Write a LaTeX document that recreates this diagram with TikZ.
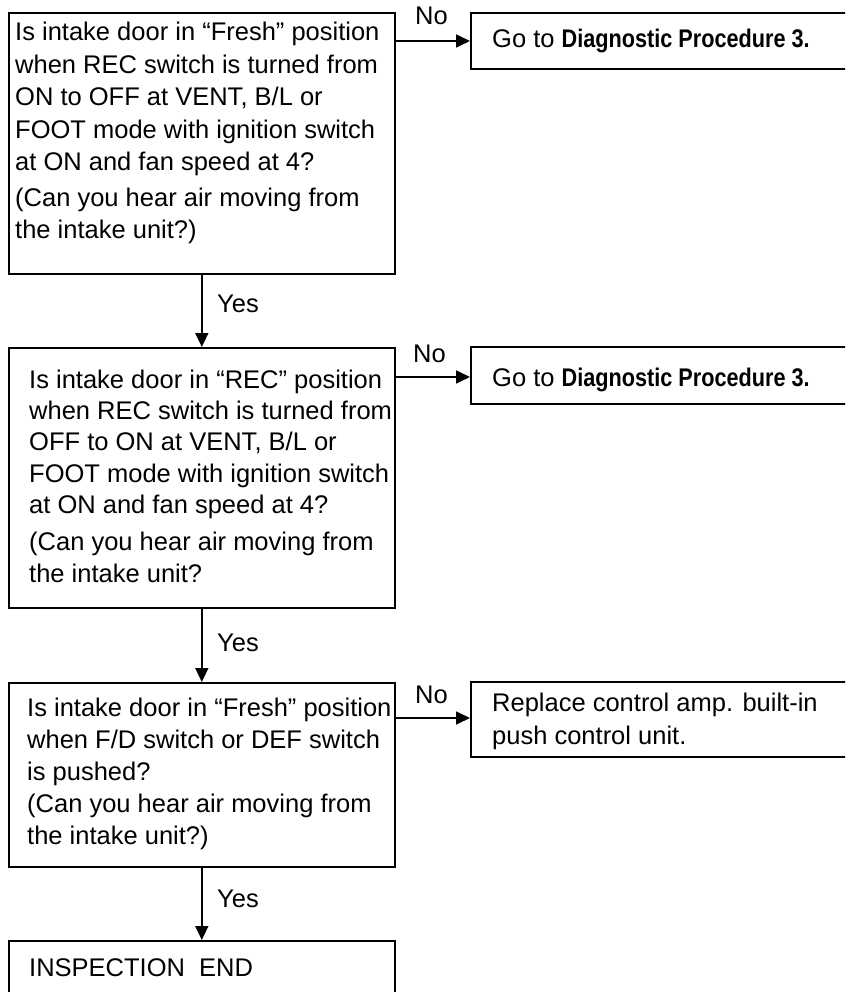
\documentclass[tikz,border=0pt]{standalone}
\usepackage{fontspec}
\usepackage{graphicx}
\setmainfont{Liberation Sans}
\usetikzlibrary{arrows.meta}
\begin{document}
\begin{tikzpicture}[x=1pt,y=-1pt,
  box/.style={draw, line width=1.6pt, rectangle, inner sep=0pt, anchor=north west},
  txt/.style={anchor=base west, align=left, inner sep=0pt},
  lab/.style={anchor=base west, inner sep=0pt},
  conn/.style={line width=1.6pt, -{Triangle[length=14pt,width=13pt]}}]
\clip (0,0) rectangle (845,992);
\fontsize{25.5}{32.5}\selectfont
% boxes
\node[box, minimum width=386pt, minimum height=261pt] (q1) at (8,12) {};
\node[box, minimum width=386pt, minimum height=260pt] (q2) at (8,347) {};
\node[box, minimum width=386pt, minimum height=184pt] (q3) at (8,682) {};
\node[box, minimum width=386pt, minimum height=80pt] (e) at (8,940) {};
\node[box, minimum width=430pt, minimum height=56pt] (g1) at (470,12) {};
\node[box, minimum width=430pt, minimum height=57pt] (g2) at (470,346) {};
\node[box, minimum width=430pt, minimum height=75pt] (r) at (470,681) {};
% texts (anchored at the baseline of the last line)
\node[txt, font=\fontsize{25.5}{32.5}\selectfont] (q1t) at (15,239) {Is intake door in ``Fresh'' position\\when REC switch is turned from\\ON to OFF at VENT, B/L or\\FOOT mode with ignition switch\\at ON and fan speed at 4?\\[3pt](Can you hear air moving from\\the intake unit?)};
\node[txt, font=\fontsize{25.5}{31.3}\selectfont] (q2t) at (29,582) {Is intake door in ``REC'' position\\when REC switch is turned from\\OFF to ON at VENT, B/L or\\FOOT mode with ignition switch\\at ON and fan speed at 4?\\[6pt](Can you hear air moving from\\the intake unit?};
\node[txt, font=\fontsize{25.5}{32}\selectfont] (q3t) at (27,844) {Is intake door in ``Fresh'' position\\when F/D switch or DEF switch\\is pushed?\\(Can you hear air moving from\\the intake unit?)};
\node[txt] (et) at (29,976) {INSPECTION\ \ END};
\node[txt] (g1t) at (492,48) {Go to \scalebox{0.85}[1]{\textbf{Diagnostic Procedure 3.}}};
\node[txt] (g2t) at (492,386) {Go to \scalebox{0.85}[1]{\textbf{Diagnostic Procedure 3.}}};
\node[txt, font=\fontsize{25.5}{33}\selectfont] (rt) at (492,744) {Replace control amp. built-in\\push control unit.};
% labels
\node[lab] (n1) at (415,25) {No};
\node[lab] (n2) at (413,362) {No};
\node[lab] (n3) at (415,703) {No};
\node[lab] (y1) at (217,312) {Yes};
\node[lab] (y2) at (217,651) {Yes};
\node[lab] (y3) at (217,907) {Yes};
% connectors
\draw[conn] (q1.south) -- (q2.north);
\draw[conn] (q2.south) -- (q3.north);
\draw[conn] (q3.south) -- (e.north);
\draw[conn] ([yshift=-29pt]q1.north east) -- ([yshift=-29pt]q1.north east -| g1.west);
\draw[conn] ([yshift=-30pt]q2.north east) -- ([yshift=-30pt]q2.north east -| g2.west);
\draw[conn] ([yshift=-36pt]q3.north east) -- ([yshift=-36pt]q3.north east -| r.west);
\end{tikzpicture}
\end{document}
